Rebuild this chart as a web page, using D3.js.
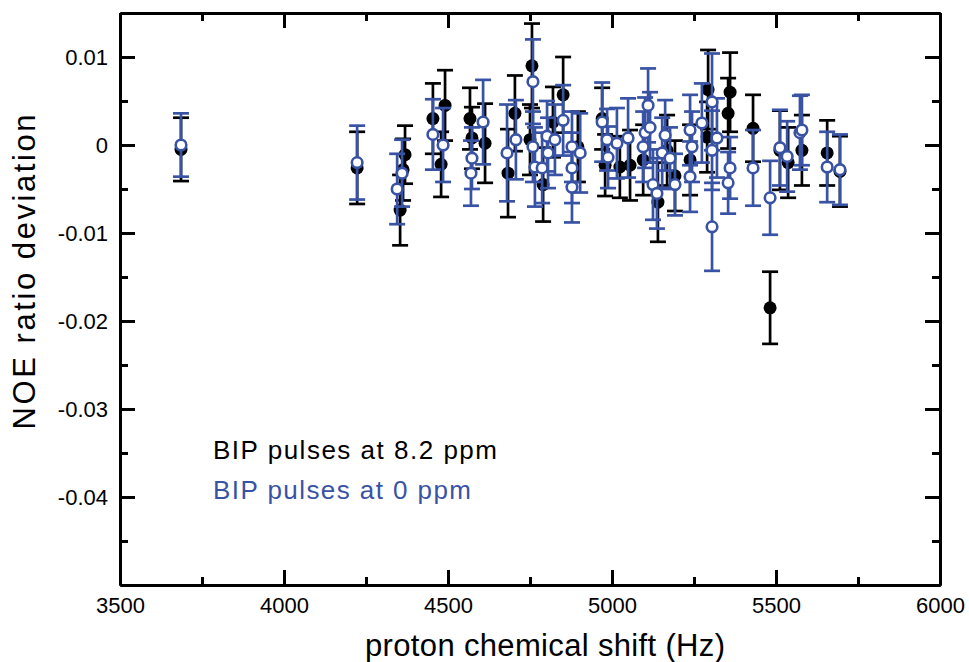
<!DOCTYPE html>
<html>
<head>
<meta charset="utf-8">
<script src="https://cdn.jsdelivr.net/npm/d3@7"></script>
<style>
  body { margin: 0; background: #fff; }
  text { font-family: "Liberation Sans", Arial, sans-serif; }
</style>
</head>
<body>
<svg id="chart" width="969" height="662"></svg>
<script>
// BIP pulses at 8.2 ppm (black, filled)
var shiftBlack = [3686, 4223, 4354, 4369, 4363, 4454, 4491, 4479, 4567, 4573, 4613, 4704, 4683, 4756, 4750,
  4790, 4820, 4851, 4896, 4970, 4979, 5024, 5055, 5095, 5168, 5140, 5192, 5238, 5290, 5293, 5360, 5354,
  5430, 5482, 5512, 5537, 5579, 5656, 5695];
var noeBlack = [-0.0005, -0.0026, -0.0074, -0.0011, -0.0028, 0.0030, 0.0045, -0.0022, 0.0030, 0.0008, 0.0002,
  0.0036, -0.0032, 0.0090, 0.0006, -0.0045, 0.0026, 0.0057, -0.0002, 0.0030, -0.0023, -0.0025, -0.0023,
  -0.0017, -0.0006, -0.0065, -0.0035, -0.0017, 0.0009, 0.0063, 0.0060, 0.0036, 0.0019, -0.0185, -0.0006,
  -0.0020, -0.0006, -0.0009, -0.0030];
var errBlack = [0.0036, 0.0041, 0.0040, 0.0033, 0.0035, 0.0040, 0.0040, 0.0037, 0.0035, 0.0035, 0.0045,
  0.0043, 0.0050, 0.0048, 0.0040, 0.0042, 0.0040, 0.0043, 0.0040, 0.0035, 0.0035, 0.0035, 0.0040,
  0.0040, 0.0040, 0.0045, 0.0040, 0.0040, 0.0040, 0.0045, 0.0045, 0.0040, 0.0038, 0.0041, 0.0045,
  0.0040, 0.0040, 0.0037, 0.0040];

// BIP pulses at 0 ppm (blue, open)
var shiftBlue = [3686, 4223, 4345, 4360, 4454, 4485, 4607, 4573, 4570, 4707, 4680, 4759, 4759, 4765, 4802,
  4805, 4787, 4826, 4851, 4878, 4878, 4878, 4903, 4970, 4985, 5015, 4988, 5049, 5110, 5101, 5095, 5116,
  5162, 5153, 5177, 5125, 5137, 5192, 5238, 5274, 5244, 5238, 5305, 5320, 5305, 5360, 5354, 5305, 5430,
  5482, 5512, 5534, 5573, 5579, 5656, 5695];
var noeBlue = [0.0000, -0.0020, -0.0050, -0.0032, 0.0012, 0.0000, 0.0026, -0.0015, -0.0032, 0.0006, -0.0009,
  0.0072, -0.0002, -0.0025, 0.0010, -0.0009, -0.0026, 0.0006, 0.0028, -0.0002, -0.0026, -0.0048, -0.0009,
  0.0026, 0.0006, 0.0002, -0.0014, 0.0008, 0.0045, 0.0014, -0.0002, 0.0020, 0.0011, -0.0009, -0.0015,
  -0.0045, -0.0055, -0.0045, 0.0017, 0.0025, -0.0002, -0.0036, 0.0049, 0.0008, -0.0006, -0.0026, -0.0043,
  -0.0093, -0.0026, -0.0060, -0.0003, -0.0013, 0.0014, 0.0017, -0.0025, -0.0028];
var errBlue = [0.0036, 0.0042, 0.0040, 0.0038, 0.0040, 0.0042, 0.0048, 0.0035, 0.0037, 0.0045, 0.0055,
  0.0048, 0.0040, 0.0045, 0.0040, 0.0040, 0.0040, 0.0040, 0.0040, 0.0040, 0.0040, 0.0040, 0.0045,
  0.0045, 0.0035, 0.0040, 0.0035, 0.0045, 0.0042, 0.0040, 0.0040, 0.0040, 0.0040, 0.0040, 0.0035,
  0.0040, 0.0040, 0.0035, 0.0040, 0.0045, 0.0040, 0.0040, 0.0055, 0.0045, 0.0045, 0.0035, 0.0035,
  0.0050, 0.0043, 0.0042, 0.0043, 0.0040, 0.0042, 0.0040, 0.0040, 0.0040];

var xMajor = [3500, 4000, 4500, 5000, 5500, 6000];
var xMinor = [3750, 4250, 4750, 5250, 5750];
var yMajor = [0.01, 0, -0.01, -0.02, -0.03, -0.04];
var yMinor = [0.005, -0.005, -0.015, -0.025, -0.035, -0.045];
var legendLabels = ["BIP pulses at 8.2 ppm", "BIP pulses at 0 ppm"];

var BLUE = "#3953a4";
var plotL = 120, plotR = 940, plotT = 13, plotB = 585;

var svg = d3.select("#chart");
var x = d3.scaleLinear().domain([3500, 6000]).range([plotL, plotR]);
var y = d3.scaleLinear().domain([-0.05, 0.015]).range([plotB, plotT]);

var fmtY = function(v) { return v === 0 ? "0" : String(+v.toFixed(2)); };
var fmtX = d3.format("d");

var build = function(shift, noe, err) {
  return shift.map(function(s, i) { return { x: s, y: noe[i], e: err[i] }; });
};

var drawSeries = function(data, color, open) {
  var g = svg.append("g");
  var bars = g.selectAll("g.bar").data(data).enter().append("g").attr("class", "bar")
    .attr("stroke", color).attr("stroke-width", 2.7);
  bars.append("line")
    .attr("x1", d => x(d.x)).attr("x2", d => x(d.x))
    .attr("y1", d => y(d.y + d.e)).attr("y2", d => y(d.y - d.e));
  bars.append("line")
    .attr("x1", d => x(d.x) - 8).attr("x2", d => x(d.x) + 8)
    .attr("y1", d => y(d.y + d.e)).attr("y2", d => y(d.y + d.e));
  bars.append("line")
    .attr("x1", d => x(d.x) - 8).attr("x2", d => x(d.x) + 8)
    .attr("y1", d => y(d.y - d.e)).attr("y2", d => y(d.y - d.e));
  g.selectAll("circle").data(data).enter().append("circle")
    .attr("cx", d => x(d.x)).attr("cy", d => y(d.y))
    .attr("r", open ? 5.3 : 6.5)
    .attr("fill", open ? "#fff" : color)
    .attr("stroke", open ? color : "none")
    .attr("stroke-width", 2.6);
};

drawSeries(build(shiftBlack, noeBlack, errBlack), "#000", false);
drawSeries(build(shiftBlue, noeBlue, errBlue), BLUE, true);

// axes: ticks point inward on all four sides
var styleAxis = function(g) {
  g.selectAll("path.domain").attr("stroke", "#000").attr("stroke-width", 3);
  g.selectAll(".tick line").attr("stroke", "#000").attr("stroke-width", 3);
  g.selectAll(".tick text").attr("fill", "#000").style("font-size", "22px")
    .style("font-family", "'Liberation Sans', Arial, sans-serif");
};

var axes = [
  [d3.axisBottom(x).tickValues(xMajor).tickSizeInner(-15).tickSizeOuter(0).tickPadding(12).tickFormat(fmtX), "translate(0," + plotB + ")"],
  [d3.axisBottom(x).tickValues(xMinor).tickSizeInner(-8).tickSizeOuter(0).tickFormat(""), "translate(0," + plotB + ")"],
  [d3.axisTop(x).tickValues(xMajor).tickSizeInner(-15).tickSizeOuter(0).tickFormat(""), "translate(0," + plotT + ")"],
  [d3.axisTop(x).tickValues(xMinor).tickSizeInner(-8).tickSizeOuter(0).tickFormat(""), "translate(0," + plotT + ")"],
  [d3.axisLeft(y).tickValues(yMajor).tickSizeInner(-15).tickSizeOuter(0).tickPadding(12).tickFormat(fmtY), "translate(" + plotL + ",0)"],
  [d3.axisLeft(y).tickValues(yMinor).tickSizeInner(-8).tickSizeOuter(0).tickFormat(""), "translate(" + plotL + ",0)"],
  [d3.axisRight(y).tickValues(yMajor).tickSizeInner(-15).tickSizeOuter(0).tickFormat(""), "translate(" + plotR + ",0)"],
  [d3.axisRight(y).tickValues(yMinor).tickSizeInner(-8).tickSizeOuter(0).tickFormat(""), "translate(" + plotR + ",0)"]
];
axes.forEach(function(a) {
  var g = svg.append("g").attr("transform", a[1]).call(a[0]);
  styleAxis(g);
});

// axis titles
svg.append("text")
  .attr("x", 545).attr("y", 656)
  .attr("text-anchor", "middle").style("font-size", "31px")
  .attr("textLength", 360).attr("lengthAdjust", "spacing")
  .text("proton chemical shift (Hz)");
svg.append("text")
  .attr("transform", "translate(35,272) rotate(-90)")
  .attr("text-anchor", "middle").style("font-size", "31px")
  .attr("textLength", 315).attr("lengthAdjust", "spacing")
  .text("NOE ratio deviation");

// legend
var legendWidths = [284, 258];
svg.selectAll("text.legend").data(legendLabels).enter().append("text")
  .attr("class", "legend")
  .attr("x", 213).attr("y", (d, i) => 459 + i * 40)
  .attr("fill", (d, i) => i === 0 ? "#000" : BLUE)
  .style("font-size", "26px")
  .attr("textLength", (d, i) => legendWidths[i]).attr("lengthAdjust", "spacing")
  .text(d => d);
</script>
</body>
</html>
